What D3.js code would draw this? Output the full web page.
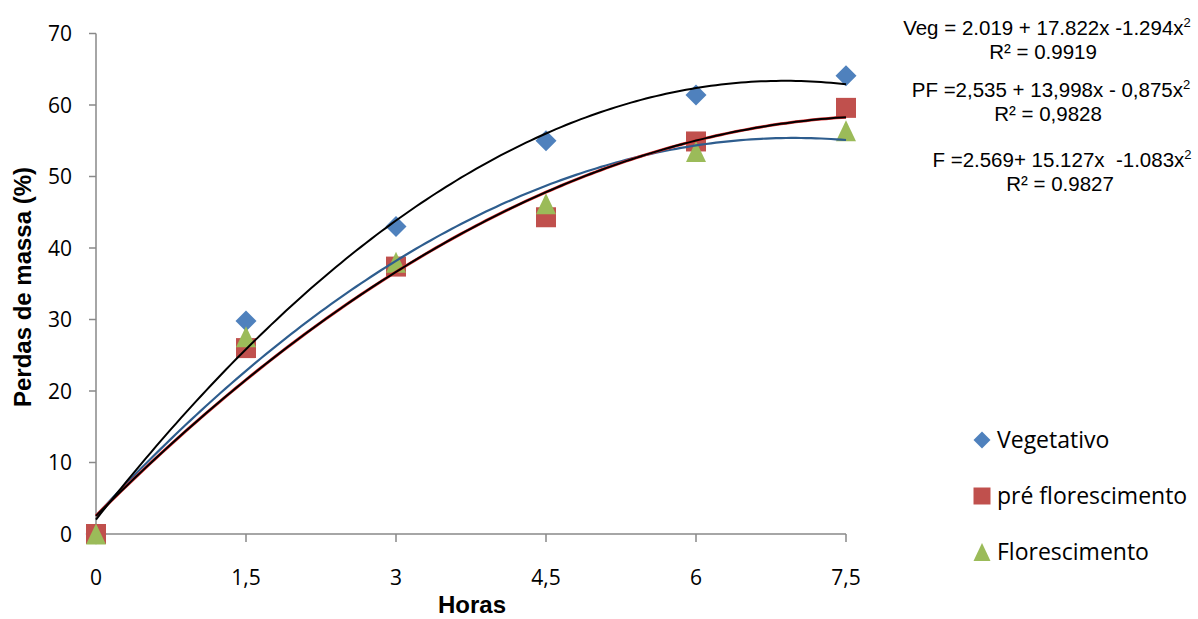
<!DOCTYPE html>
<html lang="pt">
<head>
    <meta charset="UTF-8">
    <title>Perdas de massa</title>
    <script src="https://d3js.org/d3.v7.min.js"></script>
    <style>
        body { margin: 0; background: #fff; }
        svg { display: block; }
        .tick-label { font-family: 'Open Sans', sans-serif; font-size: 21px; fill: #000; }
        .axis-title { font-family: 'Liberation Sans', Arial, sans-serif; font-size: 24px; font-weight: bold; fill: #000; }
        .legend-text { font-family: 'Open Sans', sans-serif; font-size: 23px; fill: #000; }
        .eq { font-family: 'Liberation Sans', Arial, sans-serif; font-size: 20.5px; fill: #000; }
    </style>
</head>
<body>
<svg width="1198" height="619"></svg>
<script>
// horas de secagem
const horas = [0, 1.5, 3, 4.5, 6, 7.5];
const vegetativo = [0, 29.8, 43.0, 55.0, 61.4, 64.1];
const preFlorescimento = [0, 26.0, 37.4, 44.3, 54.9, 59.6];
const florescimento = [0, 27.6, 38.0, 46.2, 53.5, 56.4];

const yTicks = [0, 10, 20, 30, 40, 50, 60, 70];
const xTickLabels = ["0", "1,5", "3", "4,5", "6", "7,5"];

// coeficientes das linhas de tendência (a + bx + cx²)
const coefVeg = [2.019, 17.822, -1.294];
const coefPF = [2.535, 13.998, -0.875];
const coefF = [2.569, 15.127, -1.083];

const svg = d3.select("svg");
const x = d3.scaleLinear([0, 7.5], [96, 846]);
const y = d3.scaleLinear([0, 70], [534, 33.5]);
const axisColor = "#898989";

// eixos
svg.append("line")
    .attr("x1", x(0)).attr("x2", x(0))
    .attr("y1", y(70)).attr("y2", y(0))
    .attr("stroke", axisColor).attr("stroke-width", 1.5);
svg.append("line")
    .attr("x1", x(0)).attr("x2", x(7.5))
    .attr("y1", y(0)).attr("y2", y(0))
    .attr("stroke", axisColor).attr("stroke-width", 1.5);

svg.selectAll(".ytick").data(yTicks).join("line")
    .attr("x1", x(0) - 7).attr("x2", x(0))
    .attr("y1", d => y(d)).attr("y2", d => y(d))
    .attr("stroke", axisColor).attr("stroke-width", 1.5);
svg.selectAll(".ylab").data(yTicks).join("text")
    .attr("class", "tick-label")
    .attr("x", 72).attr("y", d => y(d))
    .attr("dy", "0.36em")
    .attr("text-anchor", "end")
    .text(d => d);

svg.selectAll(".xtick").data(horas).join("line")
    .attr("x1", d => x(d)).attr("x2", d => x(d))
    .attr("y1", y(0)).attr("y2", y(0) + 8)
    .attr("stroke", axisColor).attr("stroke-width", 1.5);
svg.selectAll(".xlab").data(horas).join("text")
    .attr("class", "tick-label")
    .attr("x", d => x(d)).attr("y", 585)
    .attr("text-anchor", "middle")
    .text((d, i) => xTickLabels[i]);

svg.append("text").attr("class", "axis-title")
    .attr("x", 472).attr("y", 613)
    .attr("text-anchor", "middle")
    .text("Horas");
svg.append("text").attr("class", "axis-title")
    .attr("transform", "translate(31,287) rotate(-90)")
    .attr("text-anchor", "middle")
    .text("Perdas de massa (%)");

// marcadores
const diamond = { draw(ctx, s) { ctx.moveTo(0, -s); ctx.lineTo(s, 0); ctx.lineTo(0, s); ctx.lineTo(-s, 0); ctx.closePath(); } };
const square = { draw(ctx, s) { ctx.rect(-s, -s, 2 * s, 2 * s); } };
const triangle = { draw(ctx, s) { ctx.moveTo(0, -s * 1.05); ctx.lineTo(s, s * 1.05); ctx.lineTo(-s, s * 1.05); ctx.closePath(); } };

const series = [
    { name: "Vegetativo", values: vegetativo, shape: diamond, color: "#4F81BD", r: 10.5 },
    { name: "pré florescimento", values: preFlorescimento, shape: square, color: "#C0504D", r: 10 },
    { name: "Florescimento", values: florescimento, shape: triangle, color: "#9BBB59", r: 10 }
];

series.forEach(s => {
    svg.append("g").selectAll("path")
        .data(horas.map((h, i) => [h, s.values[i]]))
        .join("path")
        .attr("d", d3.symbol(s.shape, s.r))
        .attr("transform", d => `translate(${x(d[0])},${y(d[1])})`)
        .attr("fill", s.color);
});

// linhas de tendência
const poly = c => v => c[0] + c[1] * v + c[2] * v * v;
const xs = d3.range(0, 7.5001, 0.05);
const line = d3.line().x(d => x(d[0])).y(d => y(d[1]));
function trend(coef, color, width) {
    const f = poly(coef);
    svg.append("path")
        .datum(xs.map(v => [v, f(v)]))
        .attr("d", line)
        .attr("fill", "none")
        .attr("stroke", color)
        .attr("stroke-width", width);
}
trend(coefF, "#2E5D8E", 2.2);
trend(coefPF, "#E03030", 3);
trend(coefPF, "#000", 2);
trend(coefVeg, "#000", 2);

// legenda
const legendY = [440, 496, 552];
series.forEach((s, i) => {
    svg.append("path")
        .attr("d", d3.symbol(s.shape, 8.5))
        .attr("transform", `translate(982,${legendY[i]})`)
        .attr("fill", s.color);
    svg.append("text").attr("class", "legend-text")
        .attr("x", 997).attr("y", legendY[i])
        .attr("dy", "0.36em")
        .text(s.name);
});

// equações
const equations = [
    { eq: ["Veg = 2.019 + 17.822x -1.294x", "2"], r2: "R² = 0.9919", cx: 1047, rx: 1043, y: 35 },
    { eq: ["PF =2,535 + 13,998x - 0,875x", "2"], r2: "R² = 0,9828", cx: 1051, rx: 1048, y: 97 },
    { eq: ["F =2.569+ 15.127x  -1.083x", "2"], r2: "R² = 0.9827", cx: 1062, rx: 1060, y: 167 }
];
equations.forEach(e => {
    const t = svg.append("text").attr("class", "eq")
        .attr("x", e.cx).attr("y", e.y)
        .attr("text-anchor", "middle")
        .attr("xml:space", "preserve");
    t.append("tspan").text(e.eq[0]);
    t.append("tspan").attr("dy", -8).attr("font-size", 13).text(e.eq[1]);
    svg.append("text").attr("class", "eq")
        .attr("x", e.rx).attr("y", e.y + 24)
        .attr("text-anchor", "middle")
        .text(e.r2);
});
</script>
</body>
</html>
